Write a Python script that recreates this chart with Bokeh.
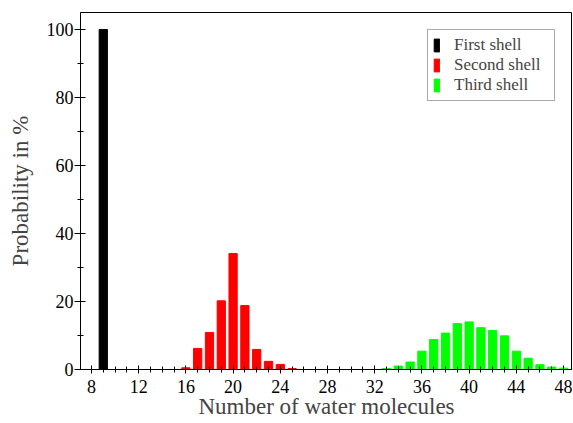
from bokeh.plotting import figure
from bokeh.models import Range1d, FixedTicker, Legend, LegendItem
from bokeh.embed import file_html
from bokeh.resources import INLINE

# Data
first_x = [9]
first_y = [100.0]
second_x = [16, 17, 18, 19, 20, 21, 22, 23, 24, 25]
second_y = [0.5, 6.2, 10.9, 20.2, 34.1, 18.8, 5.9, 2.4, 1.5, 0.3]
third_x = [33, 34, 35, 36, 37, 38, 39, 40, 41, 42, 43, 44, 45, 46, 47, 48]
third_y = [0.3, 1.0, 2.2, 5.4, 8.8, 10.7, 13.5, 14.0, 12.3, 11.5, 9.9, 5.4, 3.3, 1.4, 0.7, 0.4]
x_ticks = [8, 12, 16, 20, 24, 28, 32, 36, 40, 44, 48]
y_ticks = [0, 20, 40, 60, 80, 100]
labels = ["First shell", "Second shell", "Third shell"]

FONT = "Liberation Serif"

p = figure(frame_width=492, frame_height=357, output_backend="svg", toolbar_location=None,
           x_range=Range1d(7.07, 48.76), y_range=Range1d(0, 105))
p.min_border_top = 12
p.min_border_right = 0
p.min_border_left = 80
p.min_border_bottom = 0
p.background_fill_color = "white"
p.border_fill_color = "white"
p.outline_line_color = "black"
p.outline_line_width = 1
p.xgrid.visible = False
p.ygrid.visible = False

w = 0.7
r1 = p.vbar(x=first_x, top=first_y, width=w, color="black")
r2 = p.vbar(x=second_x, top=second_y, width=w, color="#ff0000")
r3 = p.vbar(x=third_x, top=third_y, width=w, color="#00ff00")

p.xaxis.ticker = FixedTicker(ticks=x_ticks, minor_ticks=list(range(8, 49)))
p.yaxis.ticker = FixedTicker(ticks=y_ticks, minor_ticks=list(range(0, 101, 10)))

for ax in (p.xaxis[0], p.yaxis[0]):
    ax.axis_label_text_font = FONT
    ax.axis_label_text_font_style = "normal"
    ax.axis_label_text_font_size = "23px"
    ax.major_label_text_font = FONT
    ax.major_label_text_font_size = "18px"
    ax.major_label_text_color = "black"
    ax.axis_line_color = "black"
    ax.major_tick_line_color = "black"
    ax.minor_tick_line_color = "black"

p.xaxis.axis_label = "Number of water molecules"
p.yaxis.axis_label = "Probability in %"
p.xaxis.major_tick_in = 4
p.xaxis.major_tick_out = 4
p.xaxis.minor_tick_in = 3
p.xaxis.minor_tick_out = 3
p.yaxis.major_tick_in = 5
p.yaxis.major_tick_out = 6
p.yaxis.minor_tick_in = 3
p.yaxis.minor_tick_out = 3
p.xaxis.axis_label_standoff = -2
p.yaxis.axis_label_standoff = 11
p.xaxis.major_label_standoff = 6
p.yaxis.major_label_standoff = 1

legend = Legend(items=[LegendItem(label=labels[0], renderers=[r1]),
                       LegendItem(label=labels[1], renderers=[r2]),
                       LegendItem(label=labels[2], renderers=[r3])],
                location="top_right")
legend.label_text_font = FONT
legend.label_text_font_size = "17px"
legend.border_line_color = "#555555"
legend.border_line_width = 1
legend.glyph_width = 7
legend.glyph_height = 16
legend.label_height = 17
legend.label_width = 95
legend.spacing = -1
legend.padding = 5
legend.margin = 17
legend.label_standoff = 14
legend.background_fill_alpha = 1
p.add_layout(legend)

open("out.html", "w").write(file_html(p, INLINE))
